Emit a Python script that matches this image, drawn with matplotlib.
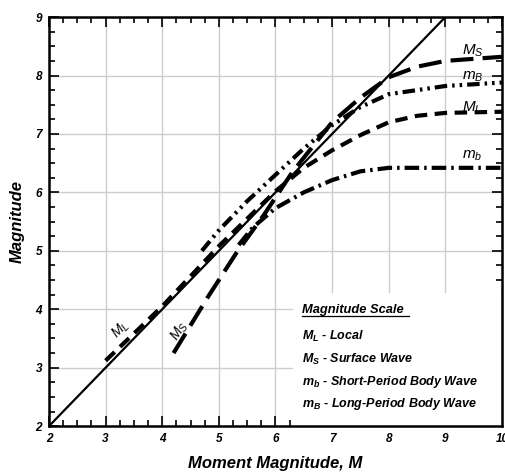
import matplotlib.pyplot as plt
from matplotlib.patches import Rectangle
from matplotlib.ticker import MultipleLocator

# curve points (moment magnitude vs. scale magnitude)
mw_line = [2, 9]

ml_x = [3.0, 4.0, 5.0, 5.5, 6.0, 6.5, 7.0, 7.5, 8.0, 8.5, 9.0, 10.0]
ml_y = [3.12, 4.05, 5.08, 5.55, 6.02, 6.42, 6.72, 6.98, 7.2, 7.31, 7.36, 7.38]

ms_x = [4.2, 4.8, 5.3, 5.8, 6.3, 7.0, 7.5, 8.0, 8.5, 9.0, 10.0]
ms_y = [3.25, 4.2, 4.95, 5.62, 6.35, 7.2, 7.62, 7.97, 8.15, 8.25, 8.32]

mbs_x = [5.35, 5.6, 6.0, 6.5, 7.0, 7.5, 8.0, 9.0, 10.0]
mbs_y = [5.1, 5.4, 5.73, 6.0, 6.21, 6.36, 6.42, 6.42, 6.42]

mbl_x = [4.7, 5.0, 5.5, 6.0, 6.5, 7.0, 7.5, 8.0, 9.0, 10.0]
mbl_y = [5.0, 5.35, 5.85, 6.3, 6.75, 7.15, 7.46, 7.68, 7.82, 7.88]

legend_lines = ["$\\mathbf{M_L}$ - Local",
                "$\\mathbf{M_S}$ - Surface Wave",
                "$\\mathbf{m_b}$ - Short-Period Body Wave",
                "$\\mathbf{m_B}$ - Long-Period Body Wave"]

plt.rcParams['font.family'] = ['Liberation Sans', 'DejaVu Sans']
plt.rcParams['mathtext.fontset'] = 'custom'
plt.rcParams['mathtext.it'] = 'Liberation Sans:italic'
plt.rcParams['mathtext.bf'] = 'Liberation Sans:bold:italic'
plt.rcParams['mathtext.rm'] = 'Liberation Sans:italic'

fig = plt.figure(figsize=(5.05, 4.74), dpi=100)
ax = fig.add_axes([0.097, 0.101, 0.897, 0.863])

ax.plot(mw_line, mw_line, color='black', lw=1.6, zorder=3)
ax.plot(ml_x, ml_y, color='black', lw=3, dashes=(3, 1.8), zorder=3)
ax.plot(ms_x, ms_y, color='black', lw=3, dashes=(5.5, 2.2), zorder=3)
ax.plot(mbs_x, mbs_y, color='black', lw=3, dashes=(3.5, 1.2, 0.6, 1.2), zorder=3)
ax.plot(mbl_x, mbl_y, color='black', lw=3, dashes=(3, 1.2, 0.6, 1.2, 0.6, 1.2), zorder=3)

# curve labels
ax.text(9.3, 8.43, "$M_S$", fontsize=11, ha='left', va='center')
ax.text(9.3, 7.98, "$m_B$", fontsize=11, ha='left', va='center')
ax.text(9.3, 7.45, "$M_L$", fontsize=11, ha='left', va='center')
ax.text(9.3, 6.63, "$m_b$", fontsize=11, ha='left', va='center')
ax.text(3.27, 3.65, "$M_L$", fontsize=10, ha='center', va='center', rotation=45)
ax.text(4.3, 3.62, "$M_S$", fontsize=10, ha='center', va='center', rotation=57)

# white box behind the legend text
ax.add_patch(Rectangle((6.31, 2), 3.69, 2.27, facecolor='white', edgecolor='none', zorder=1))
ax.text(6.47, 3.98, "Magnitude Scale", fontsize=9.3, fontweight='bold', style='italic',
        ha='left', va='center', zorder=4)
ax.plot([6.47, 8.35], [3.88, 3.88], color='black', lw=0.9, zorder=4)
for i, s in enumerate(legend_lines):
    ax.text(6.47, 3.53 - i * 0.385, s, fontsize=9, fontweight='bold', style='italic',
            ha='left', va='center', zorder=4)

ax.set_xlim(2, 10)
ax.set_ylim(2, 9)
ax.xaxis.set_major_locator(MultipleLocator(1))
ax.yaxis.set_major_locator(MultipleLocator(1))
ax.xaxis.set_minor_locator(MultipleLocator(0.25))
ax.yaxis.set_minor_locator(MultipleLocator(0.25))
ax.tick_params(which='both', direction='in', top=True, right=True, width=1.2)
ax.tick_params(which='major', length=7, labelsize=8.5, pad=5)
ax.tick_params(which='minor', length=4)
for lab in ax.get_xticklabels() + ax.get_yticklabels():
    lab.set_fontweight('bold')
    lab.set_style('italic')
ax.set_axisbelow(True)
ax.grid(True, which='major', color='#cccccc', lw=1)
for sp in ax.spines.values():
    sp.set_linewidth(1.8)

ax.set_xlabel("Moment Magnitude, M", fontsize=12, fontweight='bold', style='italic', labelpad=8)
ax.set_ylabel("Magnitude", fontsize=12, fontweight='bold', style='italic', labelpad=8)

fig.savefig("out.png", dpi=100)
